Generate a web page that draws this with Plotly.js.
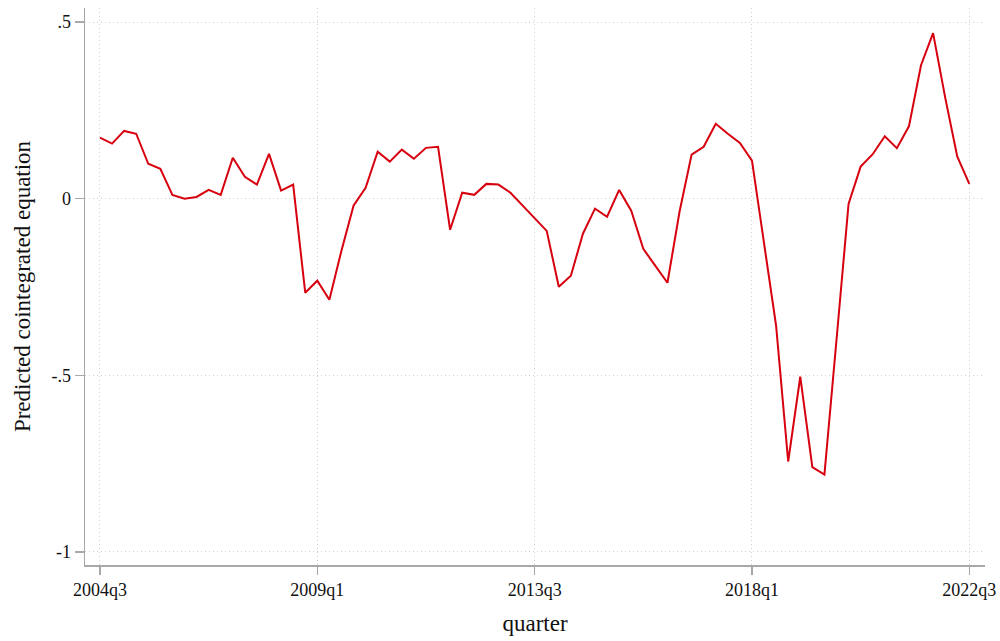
<!DOCTYPE html>
<html>
<head>
<meta charset="utf-8">
<script src="https://cdn.plot.ly/plotly-3.0.1.min.js"></script>
<style>body{margin:0;background:#fff;} #chart{width:1000px;height:641px;}</style>
</head>
<body>
<div id="chart"></div>
<script>
// Quarter labels (2004q3 .. 2022q3) and predicted cointegrated equation values
const startYear = 2004, startQ = 3;
const values = [
  0.173, 0.156, 0.192, 0.184, 0.099, 0.085, 0.011, 0.000, 0.005, 0.025,
  0.011, 0.116, 0.062, 0.040, 0.127, 0.023, 0.040, -0.266, -0.232, -0.286,
  -0.147, -0.020, 0.031, 0.133, 0.105, 0.139, 0.113, 0.144, 0.147, -0.088,
  0.017, 0.011, 0.042, 0.040, 0.017, -0.020, -0.054, -0.091, -0.249, -0.218,
  -0.099, -0.028, -0.051, 0.025, -0.034, -0.142, -0.190, -0.238, -0.037, 0.125,
  0.147, 0.212, 0.184, 0.158, 0.108, -0.119, -0.360, -0.744, -0.504, -0.760,
  -0.781, -0.400, -0.015, 0.091, 0.126, 0.177, 0.143, 0.205, 0.378, 0.469,
  0.287, 0.120, 0.042
];
const quarterIndex = values.map((v, i) => i);
const quarterLabels = quarterIndex.map(i => {
  const t = (startQ - 1) + i;
  return (startYear + Math.floor(t / 4)) + 'q' + ((t % 4) + 1);
});
const xTickVals = [0, 18, 36, 54, 72];
const xTickText = xTickVals.map(i => quarterLabels[i]);
const yTickVals = [0.5, 0, -0.5, -1];
const yTickText = ['.5', '0', '-.5', '-1'];

const trace = {
  x: quarterIndex,
  y: values,
  text: quarterLabels,
  type: 'scatter',
  mode: 'lines',
  line: {color: '#d7000f', width: 2},
  hoverinfo: 'text+y'
};

const fam = '"Liberation Serif", "Times New Roman", serif';

const layout = {
  width: 1000, height: 641,
  margin: {l: 85, r: 15, t: 8, b: 76},
  paper_bgcolor: '#fff', plot_bgcolor: '#fff',
  showlegend: false,
  font: {family: fam, color: '#111'},
  xaxis: {
    range: [-1.24, 73.3],
    tickvals: xTickVals, ticktext: xTickText,
    showline: true, linecolor: '#a8a8a8', linewidth: 1.5,
    ticks: 'outside', ticklen: 8, tickcolor: '#a8a8a8', tickwidth: 1.5,
    showgrid: true, gridcolor: '#cfcfcf', griddash: '1px,3px', gridwidth: 1,
    zeroline: false,
    tickfont: {family: fam, size: 18, color: '#111'},
    title: {text: 'quarter', font: {family: fam, size: 23, color: '#111'}, standoff: 16}
  },
  yaxis: {
    range: [-1.037, 0.54],
    tickvals: yTickVals, ticktext: yTickText,
    showline: true, linecolor: '#a8a8a8', linewidth: 1.5,
    ticks: 'outside', ticklen: 9, tickcolor: '#a8a8a8', tickwidth: 1.5,
    showgrid: true, gridcolor: '#cfcfcf', griddash: '1px,3px', gridwidth: 1,
    zeroline: false,
    tickfont: {family: fam, size: 18, color: '#111'},
    title: {text: 'Predicted cointegrated equation', font: {family: fam, size: 23, color: '#111'}, standoff: 14}
  }
};

Plotly.newPlot('chart', [trace], layout, {displayModeBar: false, staticPlot: true});
</script>
</body>
</html>
